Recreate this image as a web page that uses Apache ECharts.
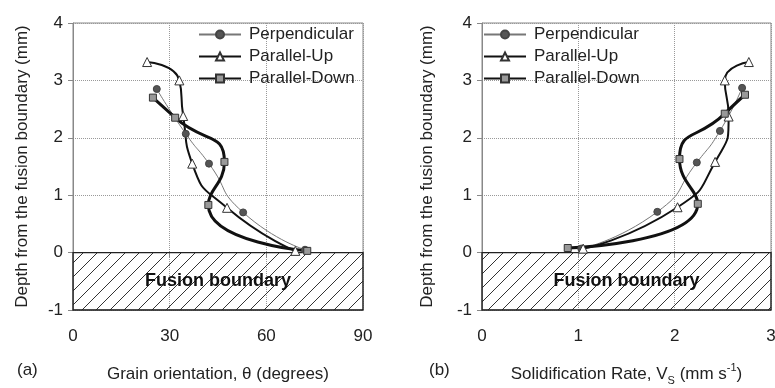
<!DOCTYPE html>
<html>
<head>
<meta charset="utf-8">
<script src="https://cdn.jsdelivr.net/npm/echarts@6/dist/echarts.min.js"></script>
<style>
  html, body { margin: 0; padding: 0; background: #fff; }
  #chart { width: 775px; height: 388px; }
</style>
</head>
<body>
<div id="chart"></div>
<script>
// ---- data ----
const seriesNames = ["Perpendicular", "Parallel-Up", "Parallel-Down"];

// (a) grain orientation (degrees) vs depth (mm)
const grainPerp = [26, 35, 42.2, 52.8, 72];
const depthPerpA = [2.85, 2.07, 1.55, 0.70, 0.05];
const grainUp = [23, 33, 34.2, 37, 47.8, 69];
const depthUpA = [3.32, 3.0, 2.38, 1.55, 0.78, 0.03];
const grainDown = [24.8, 31.7, 47, 42, 72.7];
const depthDownA = [2.70, 2.35, 1.58, 0.83, 0.03];

// (b) solidification rate (mm/s) vs depth (mm)
const ratePerp = [2.70, 2.47, 2.23, 1.82, 1.03];
const depthPerpB = [2.87, 2.12, 1.57, 0.71, 0.07];
const rateUp = [2.77, 2.52, 2.56, 2.42, 2.03, 1.05];
const depthUpB = [3.32, 3.0, 2.37, 1.58, 0.79, 0.07];
const rateDown = [2.73, 2.52, 2.05, 2.24, 0.89];
const depthDownB = [2.75, 2.42, 1.63, 0.85, 0.08];

const FONT = "Liberation Sans";

function pairs(xs, ys) { return xs.map((x, i) => [x, ys[i]]); }

// diagonal hatch tile
function hatchTile() {
  const c = document.createElement("canvas");
  c.width = c.height = 14;
  const g = c.getContext("2d");
  g.strokeStyle = "#333";
  g.lineWidth = 1;
  g.beginPath();
  g.moveTo(0, 14); g.lineTo(14, 0);
  g.moveTo(-2, 2); g.lineTo(2, -2);
  g.moveTo(12, 16); g.lineTo(16, 12);
  g.stroke();
  return c;
}
const hatch = hatchTile();

const styles = {
  "Perpendicular": { symbol: "circle", symbolSize: 7, lineStyle: { color: "#777", width: 1 },
                     itemStyle: { color: "#555", borderColor: "#444", borderWidth: 1 } },
  "Parallel-Up": { symbol: "triangle", symbolSize: 9, lineStyle: { color: "#111", width: 2 },
                   itemStyle: { color: "#fff", borderColor: "#333", borderWidth: 1 } },
  "Parallel-Down": { symbol: "rect", symbolSize: 7, lineStyle: { color: "#111", width: 3 },
                     itemStyle: { color: "#999", borderColor: "#333", borderWidth: 1 } }
};

function mkSeries(name, idx, data, withArea) {
  const s = Object.assign({
    type: "line", name: name, xAxisIndex: idx, yAxisIndex: idx,
    data: data, smooth: 0.6, showSymbol: true, z: 3
  }, styles[name]);
  if (withArea) {
    s.markArea = {
      silent: true,
      itemStyle: { color: { image: hatch, repeat: "repeat" }, borderColor: "#222", borderWidth: 1.3 },
      label: { show: true, position: "inside", fontFamily: FONT, fontSize: 18, fontWeight: "bold", color: "#111" },
      data: [[{ name: "Fusion boundary", yAxis: 0 }, { yAxis: -1 }]]
    };
  }
  return s;
}

const gridLine = { show: true, lineStyle: { color: "#999", width: 1, type: "dotted" } };

function xAx(idx, max, interval, name, extra) {
  return Object.assign({
    type: "value", gridIndex: idx, min: 0, max: max, interval: interval,
    name: name, nameLocation: "middle", nameGap: 52,
    nameTextStyle: { fontFamily: FONT, fontSize: 17, color: "#222", lineHeight: 24 },
    axisLine: { lineStyle: { color: "#888" } },
    axisTick: { show: true, length: 5, lineStyle: { color: "#888" } },
    axisLabel: { fontFamily: FONT, fontSize: 17, color: "#222", margin: 18 },
    splitLine: gridLine
  }, extra || {});
}

function yAx(idx, gap) {
  return {
    type: "value", gridIndex: idx, min: -1, max: 4, interval: 1,
    name: "Depth from the fusion boundary (mm)", nameLocation: "middle", nameGap: gap,
    nameTextStyle: { fontFamily: FONT, fontSize: 17, color: "#222" },
    axisLine: { show: true, lineStyle: { color: "#888" } },
    axisTick: { show: true, length: 5, lineStyle: { color: "#888" } },
    axisLabel: { fontFamily: FONT, fontSize: 17, color: "#222", margin: 10 },
    splitLine: gridLine
  };
}

function legendAt(left) {
  return {
    left: left, top: 21, orient: "vertical", itemWidth: 42, itemHeight: 10, itemGap: 5,
    textStyle: { fontFamily: FONT, fontSize: 17, color: "#222", padding: [0, 0, 0, 3] },
    data: seriesNames
  };
}

const chart = echarts.init(document.getElementById("chart"));
chart.setOption({
  animation: false,
  backgroundColor: "#fff",
  grid: [
    { left: 73, top: 23, width: 290, height: 287, outerBoundsMode: "none", containLabel: false,
      show: true, borderColor: "#888", borderWidth: 1 },
    { left: 482, top: 23, width: 289, height: 287, outerBoundsMode: "none", containLabel: false,
      show: true, borderColor: "#888", borderWidth: 1 }
  ],
  legend: [legendAt(193), legendAt(478)],
  xAxis: [
    xAx(0, 90, 30, "Grain orientation, \u03b8 (degrees)"),
    xAx(1, 3, 1, "Solidification Rate, V{s|S} (mm s{p|-1})", {
      nameTextStyle: {
        fontFamily: FONT, fontSize: 17, color: "#222", lineHeight: 24,
        rich: {
          s: { fontFamily: FONT, fontSize: 11, color: "#222", lineHeight: 12, verticalAlign: "bottom" },
          p: { fontFamily: FONT, fontSize: 11, color: "#222", lineHeight: 12, verticalAlign: "top" }
        }
      }
    })
  ],
  yAxis: [yAx(0, 42), yAx(1, 46)],
  graphic: [
    { type: "text", left: 17, top: 362, style: { text: "(a)", fontFamily: FONT, fontSize: 17, fill: "#222" } },
    { type: "text", left: 429, top: 362, style: { text: "(b)", fontFamily: FONT, fontSize: 17, fill: "#222" } }
  ],
  series: [
    mkSeries("Perpendicular", 0, pairs(grainPerp, depthPerpA), true),
    mkSeries("Parallel-Up", 0, pairs(grainUp, depthUpA)),
    mkSeries("Parallel-Down", 0, pairs(grainDown, depthDownA)),
    mkSeries("Perpendicular", 1, pairs(ratePerp, depthPerpB), true),
    mkSeries("Parallel-Up", 1, pairs(rateUp, depthUpB)),
    mkSeries("Parallel-Down", 1, pairs(rateDown, depthDownB))
  ]
});
</script>
</body>
</html>
